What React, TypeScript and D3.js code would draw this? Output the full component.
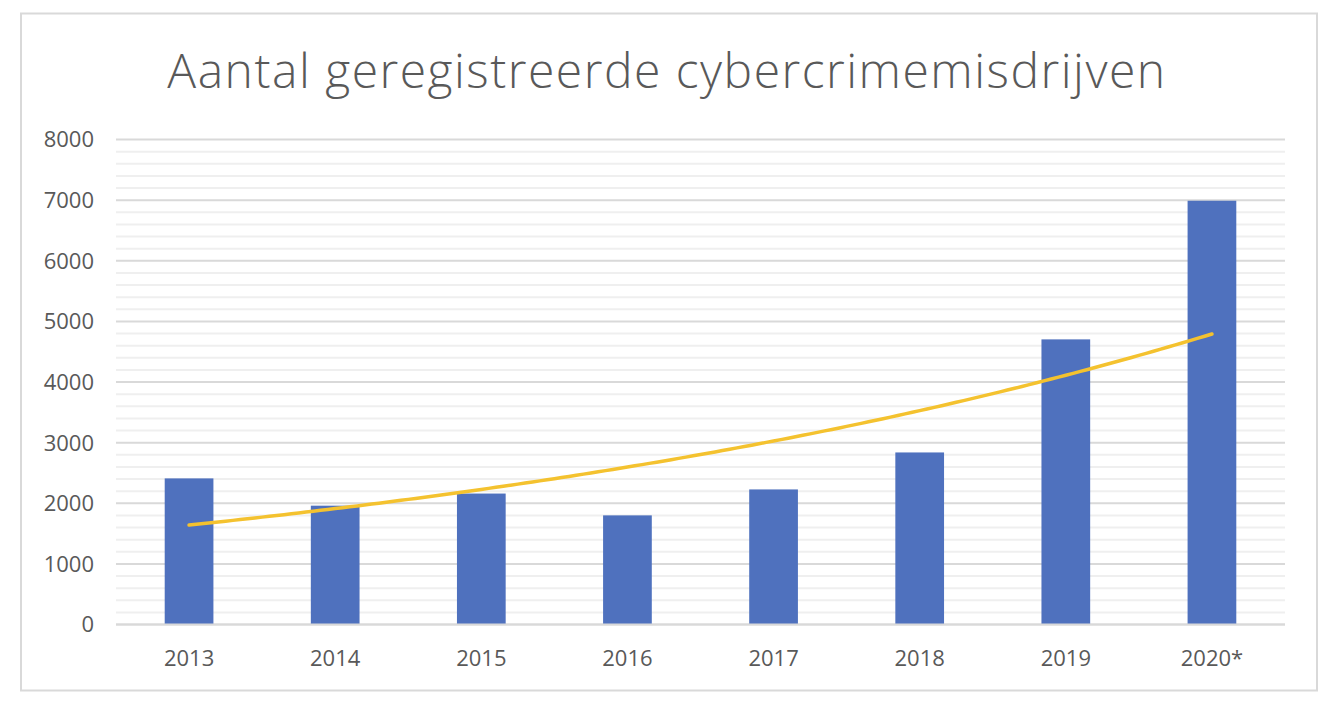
import React from "react";
import * as d3 from "d3";

const categories = ["2013", "2014", "2015", "2016", "2017", "2018", "2019", "2020*"];
const values = [2410, 1960, 2160, 1800, 2228, 2838, 4703, 6990];
const yTicks = [0, 1000, 2000, 3000, 4000, 5000, 6000, 7000, 8000];
const title = "Aantal geregistreerde cybercrimemisdrijven";

const W = 1332;
const H = 704;
const plot = { left: 116, right: 1285, top: 139.5, bottom: 624.5 };

export default function App() {
  const x = d3.scaleBand<string>().domain(categories).range([plot.left, plot.right]).paddingInner(2 / 3).paddingOuter(1 / 3);
  const y = d3.scaleLinear().domain([0, 8000]).range([plot.bottom, plot.top]);
  const minor = d3.range(0, 8001, 200).filter((v) => v % 1000 !== 0);

  // exponential trendline fitted (least squares on log values) like Excel
  const n = values.length;
  const xs = values.map((_, i) => i + 1);
  const ls = values.map((v) => Math.log(v));
  const mx = d3.mean(xs)!;
  const my = d3.mean(ls)!;
  const b = d3.sum(xs.map((xi, i) => (xi - mx) * (ls[i] - my))) / d3.sum(xs.map((xi) => (xi - mx) ** 2));
  const a = my - b * mx;
  const step = x.step();
  const cx = (t: number) => x(categories[0])! + x.bandwidth() / 2 + (t - 1) * step;
  const trendPts: [number, number][] = d3.range(1, n + 0.0001, 0.05).map((t) => [cx(t), y(Math.exp(a + b * t))]);
  const line = d3.line().curve(d3.curveLinear);

  const font = "'Open Sans', sans-serif";

  return (
    <svg width={W} height={H} style={{ position: "absolute", left: 0, top: 0, background: "#fff" }}>
      <rect x={0} y={0} width={W} height={H} fill="#fff" />
      <rect x={21} y={13.5} width={1296} height={677} fill="#fff" stroke="#d9d9d9" strokeWidth={2} />
      <text x={667} y={88} textAnchor="middle" fontFamily={font} fontWeight={300} fontSize={48} letterSpacing={1.5} fill="#595959">
        {title}
      </text>
      {minor.map((v) => (
        <line key={"m" + v} x1={plot.left} x2={plot.right} y1={y(v)} y2={y(v)} stroke="#efefef" strokeWidth={2} />
      ))}
      {yTicks.map((v) => (
        <line key={"g" + v} x1={plot.left} x2={plot.right} y1={y(v)} y2={y(v)} stroke="#d9d9d9" strokeWidth={2} />
      ))}
      {yTicks.map((v) => (
        <text key={"t" + v} x={94} y={y(v)} dy="0.36em" textAnchor="end" fontFamily={font} fontSize={22} fill="#595959">
          {v}
        </text>
      ))}
      {categories.map((c, i) => (
        <rect key={c} x={x(c)!} y={y(values[i])} width={x.bandwidth()} height={y(0) - y(values[i])} fill="#4f71be" />
      ))}
      <line x1={plot.left} x2={plot.right} y1={y(0)} y2={y(0)} stroke="#d9d9d9" strokeWidth={2} />
      {categories.map((c) => (
        <text key={"x" + c} x={x(c)! + x.bandwidth() / 2} y={666} textAnchor="middle" fontFamily={font} fontSize={22} fill="#595959">
          {c}
        </text>
      ))}
      <path d={line(trendPts)!} fill="none" stroke="#f4c22f" strokeWidth={3.5} strokeLinecap="round" />
    </svg>
  );
}
